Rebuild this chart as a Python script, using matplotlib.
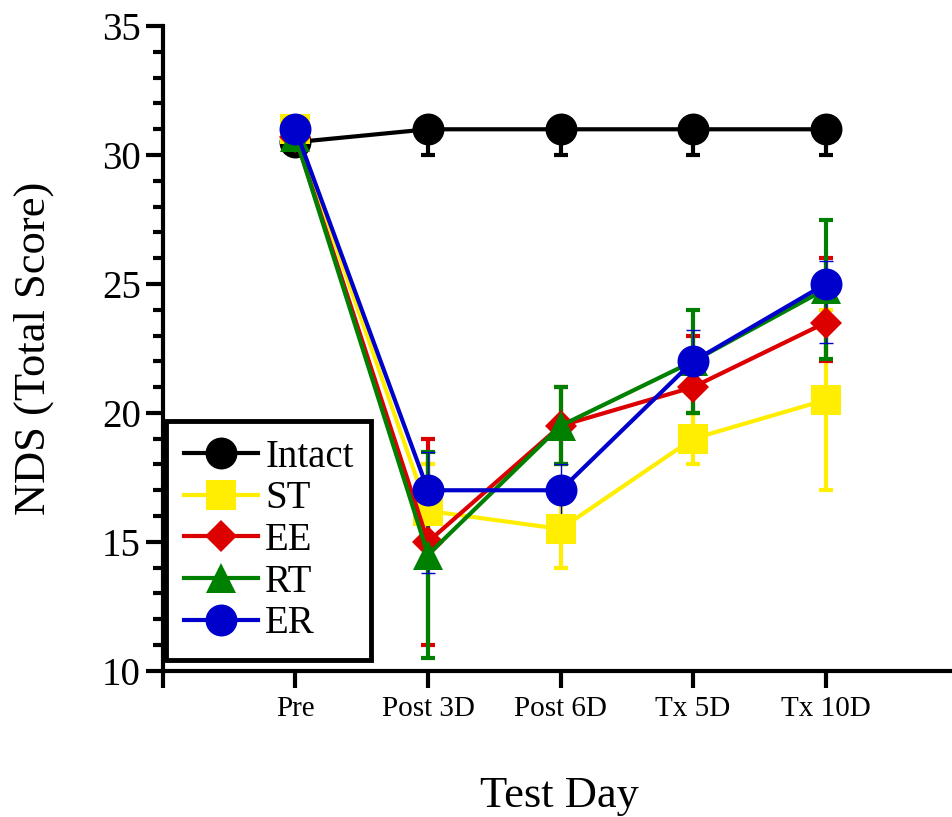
import matplotlib.pyplot as plt
from matplotlib.lines import Line2D
import numpy as np

plt.rcParams['font.family'] = ['Liberation Serif', 'DejaVu Serif']

days = ["Pre", "Post 3D", "Post 6D", "Tx 5D", "Tx 10D"]
x = np.arange(1, 6)

# mean values per group
intact = [30.5, 31, 31, 31, 31]
st = [31, 16.2, 15.5, 19, 20.5]
ee = [30.7, 15, 19.5, 21, 23.5]
rt = [30.7, 14.5, 19.5, 22, 24.8]
er = [31, 17, 17, 22, 25]

# error bars as (lower, upper)
intact_err = [[0, 1, 1, 1, 1], [0, 0, 0, 0, 0]]
st_err = [[0, 2, 1.5, 1, 3.5], [0, 1.8, 1.5, 1, 3.5]]
ee_err = [[0, 4, 1.5, 1, 1.5], [0, 4, 1.5, 2, 2.5]]
rt_err = [[0, 4, 1.5, 2, 2.7], [0, 4, 1.5, 2, 2.7]]
er_err = [[0, 3.2, 1, 1.2, 2.3], [0, 1.5, 1, 1.2, 0.9]]

fig = plt.figure(figsize=(9.53, 8.17), dpi=100)
ax = fig.add_axes([0.171, 0.179, 0.826, 0.789])

lw = 3
groups = [
    ("Intact", intact, intact_err, "black", "o", 23, 3),
    ("ST", st, st_err, "#ffee00", "s", 22, 3),
    ("EE", ee, ee_err, "#dd0000", "D", 16, 3),
    ("RT", rt, rt_err, "#008000", "^", 21, 3),
    ("ER", er, er_err, "#0000cc", "o", 23, 1),
]
handles = []
for name, y, err, c, m, size, elw in groups:
    line, caps, bars = ax.errorbar(x, y, yerr=err, color=c, marker=m, markersize=size,
                                   lw=lw, elinewidth=elw, capsize=5, capthick=elw)
    line.set_markeredgewidth(0)
    handles.append(Line2D([], [], color=c, marker=m, markersize=size, lw=lw,
                          markeredgewidth=0, label=name))

ax.set_xlim(0, 5.94)
ax.set_ylim(10, 35)
ax.set_xticks(range(0, 6))
ax.set_xticklabels([""] + days, fontsize=21)
ax.set_yticks(range(10, 36, 5))
ax.set_yticks(range(10, 36), minor=True)
ax.tick_params(axis='y', labelsize=28, width=3, length=12, direction='out', pad=4)
ax.tick_params(axis='y', which='minor', width=3, length=7)
ax.tick_params(axis='x', width=3, length=12, pad=6)
for s in ['top', 'right']:
    ax.spines[s].set_visible(False)
for s in ['left', 'bottom']:
    ax.spines[s].set_linewidth(3)

ax.set_xlabel("Test Day", fontsize=32)
ax.xaxis.label.set_va('baseline')
ax.xaxis.set_label_coords(0.504, -0.212)
ax.set_ylabel("NDS (Total Score)", fontsize=32)
ax.yaxis.label.set_va('center')
ax.yaxis.set_label_coords(-0.164, 0.5)

leg = ax.legend(handles=handles, loc='lower left', bbox_to_anchor=(0.004, 0.017),
                borderaxespad=0, fontsize=28, handlelength=1.9, handletextpad=0.2,
                labelspacing=0.12, fancybox=False, edgecolor='black', framealpha=1,
                borderpad=0.45)
leg.get_frame().set_linewidth(3.5)

fig.savefig("out.png", dpi=100)
